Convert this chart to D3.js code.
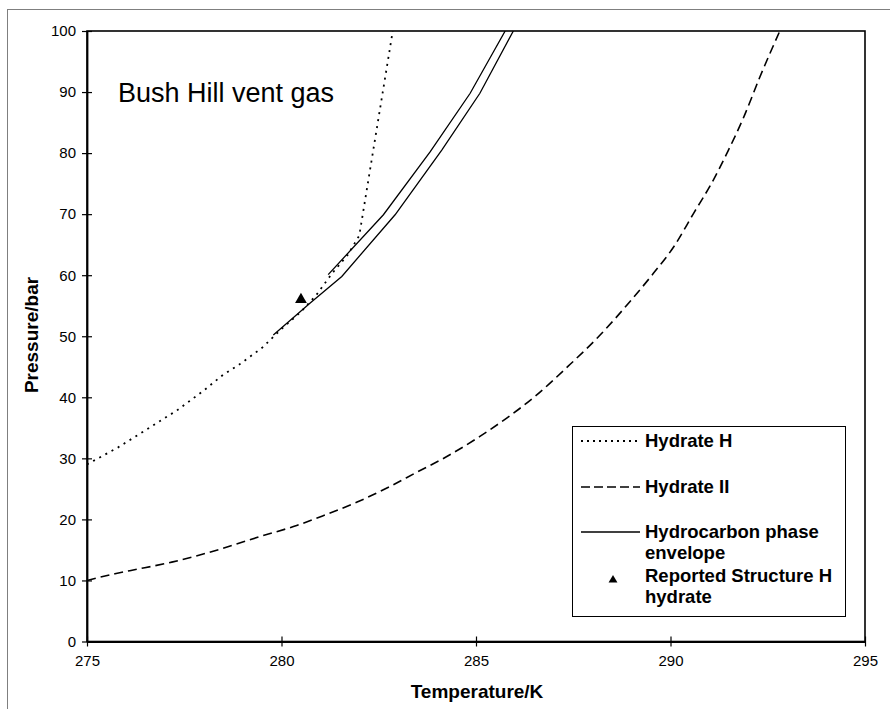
<!DOCTYPE html>
<html>
<head>
<meta charset="utf-8">
<script src="https://cdn.jsdelivr.net/npm/d3@7"></script>
<style>
  body { margin: 0; background: #fff; }
  svg { display: block; font-family: "Liberation Sans", Arial, sans-serif; }
</style>
</head>
<body>
<div id="chart"></div>
<script>
// Hydrate H equilibrium (dotted)
const hydrateHT = [275.0, 275.8, 276.2, 277.3, 278.0, 278.5, 278.9, 279.5, 280.0, 280.5, 280.9, 281.3, 281.7, 282.0, 282.86];
const hydrateHP = [29.0, 31.8, 33.4, 37.8, 41.1, 43.7, 45.3, 48.1, 51.2, 54.0, 56.8, 60.3, 63.3, 66.5, 100];

// Hydrate II equilibrium (dashed)
const hydrateIIT = [275.0, 275.72, 276.1, 277.18, 278.46, 279.45, 280.39, 281.07, 281.93, 282.79, 283.47, 284.25, 285.1, 285.79, 286.47, 287.37, 288.19, 288.96, 289.56, 290.12, 290.59, 291.06, 291.49, 291.87, 292.3, 292.81];
const hydrateIIP = [10.0, 11.1, 11.6, 13.0, 15.2, 17.2, 19.0, 20.6, 22.8, 25.4, 27.7, 30.3, 33.6, 36.6, 39.9, 45.1, 50.2, 55.7, 60.3, 65.0, 70.1, 75.1, 80.5, 85.7, 92.5, 100];

// Hydrocarbon phase envelope, two branches (solid)
const envLowT = [279.79, 280.73, 281.55, 282.92, 284.12, 285.10, 285.96];
const envLowP = [50.2, 55.4, 59.8, 69.9, 80.5, 89.8, 100];
const envUpT = [281.2, 282.62, 283.82, 284.85, 285.75];
const envUpP = [60.1, 69.9, 80.2, 89.8, 100];

// reported structure H hydrate
const reportedT = [280.5];
const reportedP = [56];

const xTicks = [275, 280, 285, 290, 295];
const yTicks = [0, 10, 20, 30, 40, 50, 60, 70, 80, 90, 100];

const W = 890, H = 709;
const plot = { left: 87, top: 31, right: 865, bottom: 641.5 };

const toPts = (ts, ps) => ts.map((t, i) => ({ t: t, p: ps[i] }));

const svg = d3.select("#chart").append("svg")
  .attr("width", W)
  .attr("height", H);

svg.append("rect").attr("width", W).attr("height", H).attr("fill", "#fff");

// outer chart border
svg.append("rect")
  .attr("x", 7.5).attr("y", 9.5)
  .attr("width", 900).attr("height", 720)
  .attr("fill", "none")
  .attr("stroke", "#7f7f7f")
  .attr("stroke-width", 1);

const x = d3.scaleLinear().domain([275, 295]).range([plot.left, plot.right]);
const y = d3.scaleLinear().domain([0, 100]).range([plot.bottom, plot.top]);

svg.append("defs").append("clipPath").attr("id", "clip")
  .append("rect")
  .attr("x", plot.left).attr("y", plot.top)
  .attr("width", plot.right - plot.left)
  .attr("height", plot.bottom - plot.top);

// plot frame
svg.append("rect")
  .attr("x", plot.left).attr("y", plot.top)
  .attr("width", plot.right - plot.left)
  .attr("height", plot.bottom - plot.top)
  .attr("fill", "none")
  .attr("stroke", "#000")
  .attr("stroke-width", 1.6);

// axes
const yAxis = svg.append("g")
  .attr("transform", `translate(${plot.left},0)`)
  .call(d3.axisLeft(y).tickValues(yTicks).tickSizeInner(5).tickSizeOuter(0).tickPadding(6));
yAxis.selectAll(".tick line").attr("x2", 5).attr("x1", -5).attr("stroke-width", 1.2);

const xAxis = svg.append("g")
  .attr("transform", `translate(0,${plot.bottom})`)
  .call(d3.axisBottom(x).tickValues(xTicks).tickSizeInner(5).tickSizeOuter(0).tickPadding(9));
xAxis.selectAll(".tick line").attr("y1", -5).attr("y2", 5).attr("stroke-width", 1.2);

svg.selectAll(".domain").attr("stroke", "#000").attr("stroke-width", 1.8);
svg.selectAll(".tick text")
  .attr("font-family", "Liberation Sans, Arial, sans-serif")
  .attr("font-size", 15)
  .attr("fill", "#000");

// axis titles
svg.append("text")
  .attr("x", (plot.left + plot.right) / 2 + 1)
  .attr("y", 698)
  .attr("text-anchor", "middle")
  .attr("font-size", 19)
  .attr("font-weight", "bold")
  .text("Temperature/K");

svg.append("text")
  .attr("transform", `translate(38,335) rotate(-90)`)
  .attr("text-anchor", "middle")
  .attr("font-size", 19)
  .attr("font-weight", "bold")
  .text("Pressure/bar");

// chart annotation
svg.append("text")
  .attr("x", 118)
  .attr("y", 101.5)
  .attr("font-size", 27)
  .text("Bush Hill vent gas");

// curves
const lines = svg.append("g").attr("clip-path", "url(#clip)");

const smooth = d3.line().x(d => x(d.t)).y(d => y(d.p)).curve(d3.curveMonotoneX);
const straight = d3.line().x(d => x(d.t)).y(d => y(d.p));

lines.append("path")
  .datum(toPts(hydrateIIT, hydrateIIP))
  .attr("d", smooth)
  .attr("fill", "none")
  .attr("stroke", "#000")
  .attr("stroke-width", 1.6)
  .attr("stroke-dasharray", "9,5");

lines.append("path")
  .datum(toPts(envLowT, envLowP))
  .attr("d", straight)
  .attr("fill", "none")
  .attr("stroke", "#000")
  .attr("stroke-width", 1.3);

lines.append("path")
  .datum(toPts(envUpT, envUpP))
  .attr("d", straight)
  .attr("fill", "none")
  .attr("stroke", "#000")
  .attr("stroke-width", 1.3);

lines.append("path")
  .datum(toPts(hydrateHT, hydrateHP))
  .attr("d", straight)
  .attr("fill", "none")
  .attr("stroke", "#000")
  .attr("stroke-width", 1.8)
  .attr("stroke-dasharray", "2,5");

const tri = d3.symbol().type(d3.symbolTriangle).size(60);
svg.selectAll(".reported")
  .data(toPts(reportedT, reportedP))
  .join("path")
  .attr("class", "reported")
  .attr("transform", d => `translate(${x(d.t)},${y(d.p)})`)
  .attr("d", tri)
  .attr("fill", "#000");

// legend
const legend = svg.append("g");
legend.append("rect")
  .attr("x", 572.5).attr("y", 426.5)
  .attr("width", 273).attr("height", 190)
  .attr("fill", "#fff")
  .attr("stroke", "#000")
  .attr("stroke-width", 1);

const legendItems = [
  { kind: "dot", lines: ["Hydrate H"], y: 441 },
  { kind: "dash", lines: ["Hydrate II"], y: 487 },
  { kind: "solid", lines: ["Hydrocarbon phase", "envelope"], y: 532 },
  { kind: "tri", lines: ["Reported Structure H", "hydrate"], y: 576 }
];

legendItems.forEach(item => {
  if (item.kind === "tri") {
    legend.append("path")
      .attr("transform", `translate(613,${item.y + 4})`)
      .attr("d", d3.symbol().type(d3.symbolTriangle).size(34))
      .attr("fill", "#000");
  } else {
    legend.append("line")
      .attr("x1", 581).attr("x2", 640)
      .attr("y1", item.y).attr("y2", item.y)
      .attr("stroke", "#000")
      .attr("stroke-width", item.kind === "dot" ? 1.8 : 1.3)
      .attr("stroke-dasharray", item.kind === "dot" ? "2,4" : item.kind === "dash" ? "9,4" : null);
  }
  item.lines.forEach((s, i) => {
    legend.append("text")
      .attr("x", 645)
      .attr("y", item.y + 6 + i * 21)
      .attr("font-size", 18.5)
      .attr("font-weight", "bold")
      .text(s);
  });
});
</script>
</body>
</html>
